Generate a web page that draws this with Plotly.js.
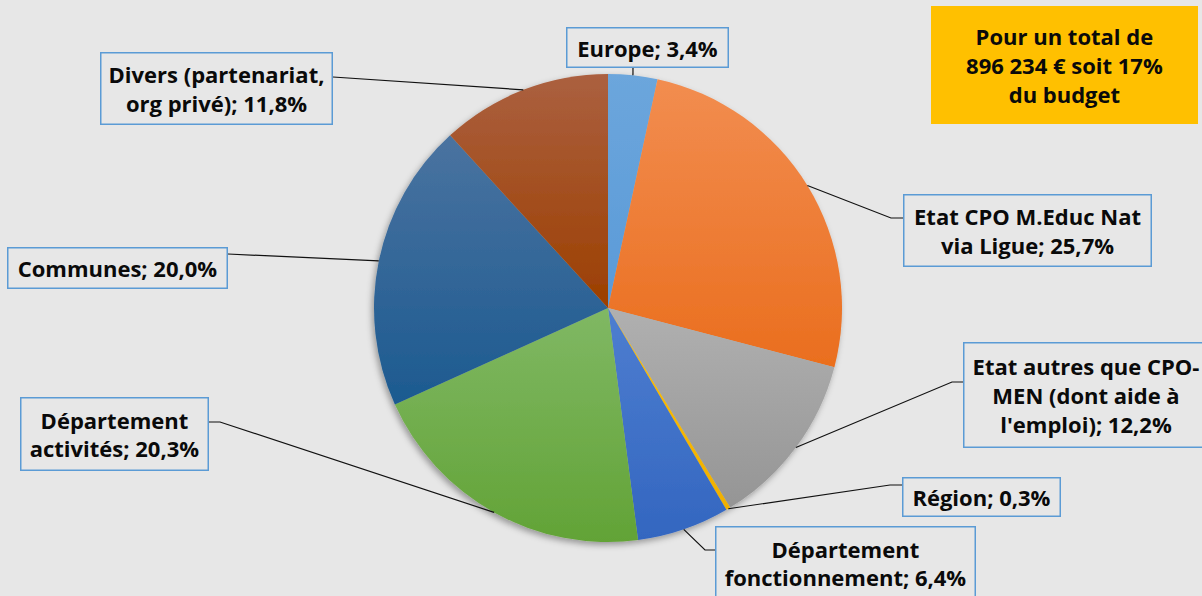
<!DOCTYPE html>
<html>
<head>
<meta charset="utf-8">
<script src="https://cdn.plot.ly/plotly-3.0.1.min.js"></script>
<style>html,body{margin:0;padding:0;background:#E7E7E7;}#chart{width:1202px;height:596px;}</style>
</head>
<body>
<div id="chart"></div>
<script>
// ---- data ----
const categories = [
  "Europe",
  "Etat CPO M.Educ Nat via Ligue",
  "Etat autres que CPO-MEN (dont aide à l'emploi)",
  "Région",
  "Département fonctionnement",
  "Département activités",
  "Communes",
  "Divers (partenariat, org privé)"
];
const values = [3.4, 25.7, 12.2, 0.3, 6.4, 20.3, 20.0, 11.8];
const labelTexts = [
  "Europe; 3,4%",
  "Etat CPO M.Educ Nat<br>via Ligue; 25,7%",
  "Etat autres que CPO-<br>MEN (dont aide à<br>l'emploi); 12,2%",
  "Région; 0,3%",
  "Département<br>fonctionnement; 6,4%",
  "Département<br>activités; 20,3%",
  "Communes; 20,0%",
  "Divers (partenariat,<br>org privé); 11,8%"
];
const totalNote = "Pour un total de<br>896 234 € soit 17%<br>du budget";

// ---- styling / layout ----
const colors = ["#64A0DA", "#EF7E36", "#A4A4A4", "#FFC000", "#4272C8", "#6FAD4A", "#2F6399", "#A34E1E"];
const gradTop = ["#6CA6DC", "#F28D50", "#B0B0B0", "#FFC000", "#4E7ED0", "#80B864", "#4A73A0", "#AB6040"];
const gradBot = ["#5A9AD8", "#EA6E1E", "#959595", "#F0B000", "#3366C0", "#62A336", "#1C5A90", "#9C3F00"];
const W = 1202, H = 596;
const cx = 608, cy = 308, R = 234;
// label boxes in pixels: center x, center y, width, height, anchor on box, optional elbow
const boxes = [
  {cx: 647.5, cy: 47.5, w: 163, h: 41, ax: 633, ay: 68},
  {cx: 1027.5, cy: 230.5, w: 249, h: 73, ax: 903, ay: 218, ex: 891, ey: 218},
  {cx: 1086, cy: 395, w: 246, h: 106, ax: 963, ay: 382, ex: 952, ey: 382},
  {cx: 981.5, cy: 496.5, w: 159, h: 40, ax: 902, ay: 485, ex: 890, ey: 485},
  {cx: 845.5, cy: 563, w: 261, h: 74, ax: 715, ay: 550, ex: 705, ey: 550},
  {cx: 114.5, cy: 434, w: 189, h: 74, ax: 209, ay: 422, ex: 220, ey: 422},
  {cx: 117.5, cy: 267.5, w: 221, h: 42, ax: 228, ay: 254},
  {cx: 216.5, cy: 88.5, w: 233, h: 73, ax: 333, ay: 77}
];
const px = x => x / W;
const py = y => 1 - y / H;

const total = values.reduce((a, b) => a + b, 0);
let cum = 0;
const shapes = [];
const annotations = [];
const FONT = {family: "Open Sans", size: 22, color: "#0A0A0A", weight: 700};
values.forEach((v, i) => {
  const mid = (cum + v / 2) / total * 2 * Math.PI;
  cum += v;
  const ex = cx + R * Math.sin(mid), ey = cy - R * Math.cos(mid);
  const b = boxes[i];
  let path = `M ${px(b.ax)} ${py(b.ay)}`;
  if (b.ex !== undefined) path += ` L ${px(b.ex)} ${py(b.ey)}`;
  path += ` L ${px(ex)} ${py(ey)}`;
  shapes.push({type: "path", xref: "paper", yref: "paper", path: path,
    line: {color: "#111111", width: 1.2}});
  annotations.push({
    xref: "paper", yref: "paper", x: px(b.cx), y: py(b.cy),
    xanchor: "center", yanchor: "middle", showarrow: false,
    text: "<b>" + labelTexts[i] + "</b>", font: FONT, align: "center",
    width: b.w - 6, height: b.h - 6, borderpad: 1.5,
    bordercolor: "#5B9BD5", borderwidth: 1.5, bgcolor: "#E7E7E7"
  });
});
annotations.push({
  xref: "paper", yref: "paper", x: px(1064.5), y: py(65),
  xanchor: "center", yanchor: "middle", showarrow: false,
  text: "<b>" + totalNote + "</b>", font: FONT, align: "center",
  width: 267, height: 118, borderpad: 0, borderwidth: 0, bgcolor: "#FFC000"
});

const trace = {
  type: "pie",
  labels: categories,
  values: values,
  sort: false,
  direction: "clockwise",
  rotation: 0,
  textinfo: "none",
  hoverinfo: "label+percent",
  marker: {colors: colors, line: {width: 0}},
  domain: {x: [px(cx - R), px(cx + R)], y: [py(cy + R), py(cy - R)]},
  showlegend: false
};

Plotly.newPlot("chart", [trace], {
  width: W, height: H,
  margin: {l: 0, r: 0, t: 0, b: 0},
  paper_bgcolor: "#E7E7E7",
  plot_bgcolor: "#E7E7E7",
  showlegend: false,
  shapes: shapes,
  annotations: annotations
}, {displayModeBar: false, staticPlot: true}).then(gd => {
  // Excel-like vertical gradient fill + soft shadow on slices
  const svg = gd.querySelector("svg.main-svg");
  const NS = "http://www.w3.org/2000/svg";
  const defs = document.createElementNS(NS, "defs");
  gradTop.forEach((c, i) => {
    const g = document.createElementNS(NS, "linearGradient");
    g.setAttribute("id", "sliceGrad" + i);
    g.setAttribute("x1", "0"); g.setAttribute("y1", "0");
    g.setAttribute("x2", "0"); g.setAttribute("y2", "1");
    [[0, c], [1, gradBot[i]]].forEach(([o, col]) => {
      const s = document.createElementNS(NS, "stop");
      s.setAttribute("offset", o); s.setAttribute("stop-color", col);
      g.appendChild(s);
    });
    defs.appendChild(g);
  });
  const f = document.createElementNS(NS, "filter");
  f.setAttribute("id", "pieShadow");
  f.setAttribute("x", "-10%"); f.setAttribute("y", "-10%");
  f.setAttribute("width", "120%"); f.setAttribute("height", "120%");
  const ds = document.createElementNS(NS, "feDropShadow");
  ds.setAttribute("dx", "-2"); ds.setAttribute("dy", "3");
  ds.setAttribute("stdDeviation", "3"); ds.setAttribute("flood-color", "#000");
  ds.setAttribute("flood-opacity", "0.35");
  f.appendChild(ds);
  defs.appendChild(f);
  svg.insertBefore(defs, svg.firstChild);
  const slices = gd.querySelectorAll("g.slice path.surface");
  slices.forEach((p, i) => { p.style.fill = "url(#sliceGrad" + i + ")"; });
  const trace = gd.querySelector("g.trace");
  if (trace) trace.setAttribute("filter", "url(#pieShadow)");
});
</script>
</body>
</html>
